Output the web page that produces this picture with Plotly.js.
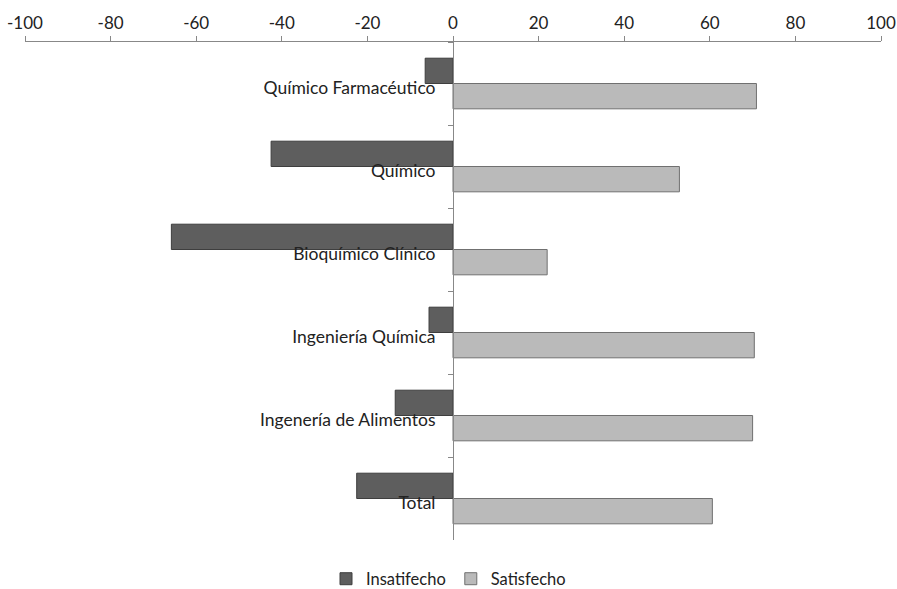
<!DOCTYPE html>
<html>
<head>
<meta charset="utf-8">
<script src="https://cdn.plot.ly/plotly-3.0.1.min.js"></script>
<style>html,body{margin:0;padding:0;background:#fff}#chart{width:897px;height:589px}</style>
</head>
<body>
<div id="chart"></div>
<script>
const categories = ["Químico Farmacéutico", "Químico", "Bioquímico Clínico", "Ingeniería Química", "Ingenería de Alimentos", "Total"];
const insatisfecho = [-6.5, -42.5, -65.8, -5.6, -13.5, -22.5];
const satisfecho = [70.9, 52.9, 22.0, 70.4, 70.0, 60.6];
const xTicks = [-100, -80, -60, -40, -20, 0, 20, 40, 60, 80, 100];

const font = "Lato, 'Open Sans', sans-serif";

const traces = [
  {
    type: "bar", orientation: "h", name: "Insatifecho",
    y: categories, x: insatisfecho,
    marker: {color: "#5e5e5e", line: {color: "#3e3e3e", width: 1}},
    hoverinfo: "x+y"
  },
  {
    type: "bar", orientation: "h", name: "Satisfecho",
    y: categories, x: satisfecho,
    marker: {color: "#bababa", line: {color: "#707070", width: 1}},
    hoverinfo: "x+y"
  }
];

const layout = {
  width: 897, height: 589,
  margin: {l: 25, r: 16, t: 42, b: 49},
  paper_bgcolor: "#fff", plot_bgcolor: "#fff",
  font: {family: font, size: 17, color: "#222"},
  barmode: "group", bargap: 0.39, bargroupgap: 0,
  showlegend: true,
  legend: {orientation: "h", x: 0.5, xanchor: "center", xref: "container",
           y: 0.017, yanchor: "middle", yref: "container",
           font: {family: font, size: 16.5, color: "#222"}, itemwidth: 30, tracegroupgap: 0},
  xaxis: {
    side: "top", range: [-100, 100], tickvals: xTicks, ticktext: xTicks.map(String),
    showgrid: false, zeroline: false, showline: true, linecolor: "#888", linewidth: 1,
    ticks: "outside", ticklen: 5, tickcolor: "#888",
    tickfont: {family: font, size: 17, color: "#222"}, fixedrange: true
  },
  yaxis: {
    type: "category", autorange: "reversed",
    anchor: "free", position: 0.5, side: "left",
    showgrid: false, zeroline: false, showline: true, linecolor: "#888", linewidth: 1,
    ticks: "outside", tickson: "boundaries", ticklen: 5, tickcolor: "#888",
    ticklabelstandoff: 14, ticklabelshift: -4,
    tickfont: {family: font, size: 17.5, color: "#222"}, fixedrange: true
  }
};

Plotly.newPlot("chart", traces, layout, {displayModeBar: false, staticPlot: true});
</script>
</body>
</html>
